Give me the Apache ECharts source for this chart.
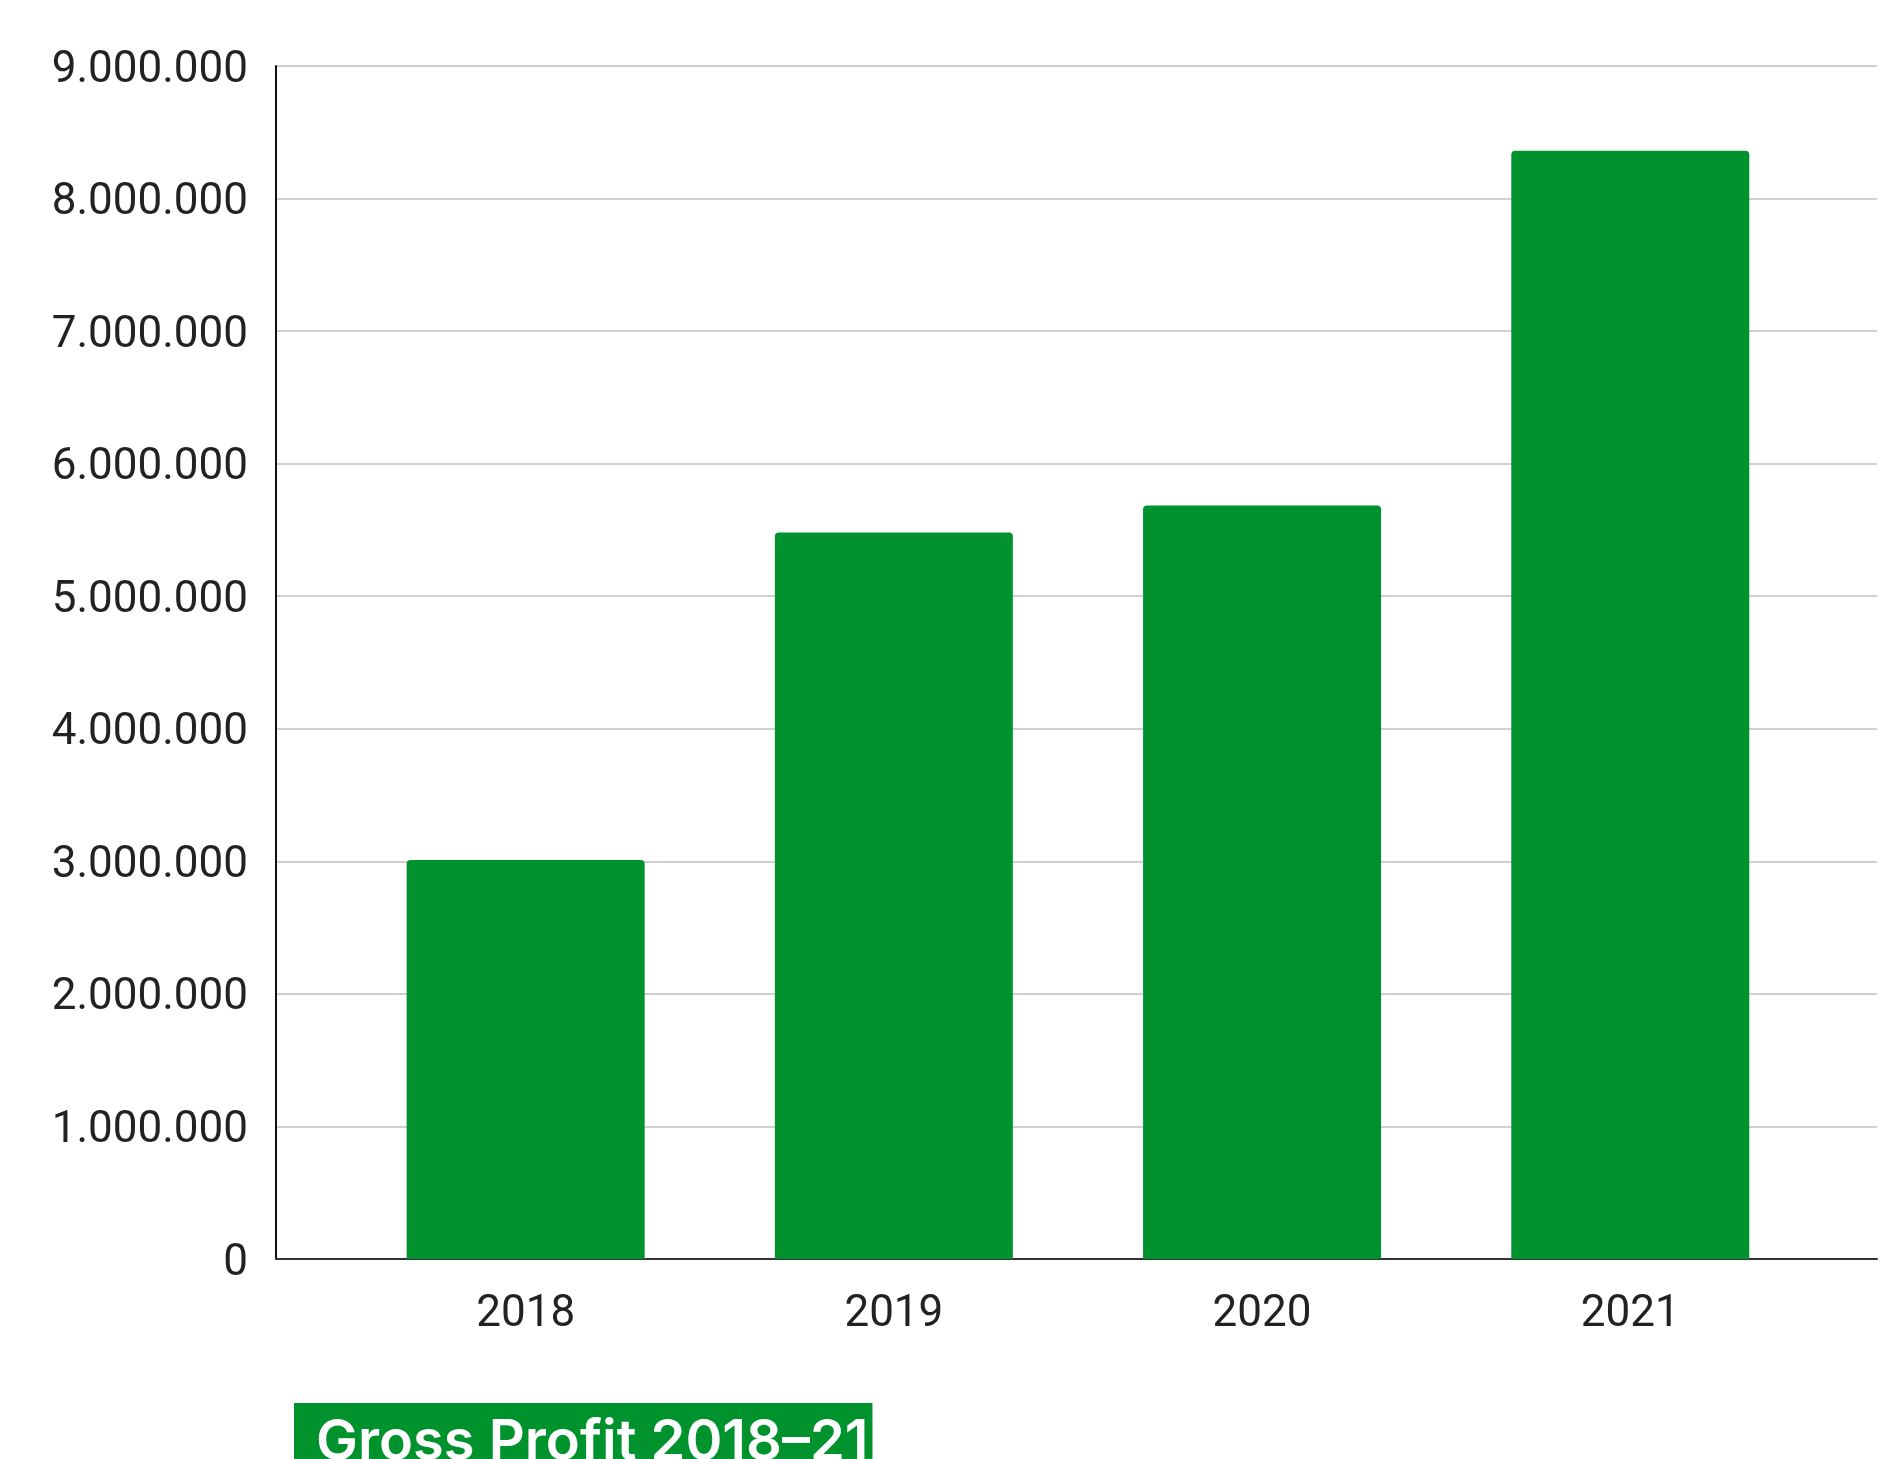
<!DOCTYPE html>
<html>
<head>
<meta charset="utf-8">
<title>Gross Profit 2018–21</title>
<script src="https://cdn.jsdelivr.net/npm/echarts@6/dist/echarts.min.js"></script>
<style>
  html, body { margin: 0; padding: 0; background: #ffffff; }
  #chart { width: 1885px; height: 1459px; }
</style>
</head>
<body>
<div id="chart"></div>
<script>
// Fiscal years and gross profit per year
const categories = ['2018', '2019', '2020', '2021'];
const grossProfit = [3010000, 5480000, 5685000, 8360000];
// Value axis range and step
const yMin = 0;
const yMax = 9000000;
const yStep = 1000000;
const titleText = 'Gross Profit 2018–21';

const GREEN = '#00922d';

// thousands separated by dots, e.g. 9.000.000
function dotThousands(v) {
  return String(Math.round(v)).replace(/\B(?=(\d{3})+(?!\d))/g, '.');
}

const chart = echarts.init(document.getElementById('chart'), null, { renderer: 'canvas' });

const option = {
  backgroundColor: '#ffffff',
  animation: false,
  title: {
    text: titleText,
    left: 294,
    top: 1403,
    backgroundColor: GREEN,
    padding: [12, 4, 20, 22],
    textStyle: {
      color: '#ffffff',
      fontFamily: 'Inter',
      fontWeight: 600,
      fontSize: 56
    }
  },
  grid: {
    left: 276,
    right: 8,
    top: 66,
    bottom: 200,
    containLabel: false
  },
  xAxis: {
    type: 'value',
    // the category slots sit inside a wider plot area
    min: -0.678,
    max: 3.67,
    axisLine: { show: true, onZero: false, lineStyle: { color: '#333333', width: 2 } },
    axisTick: { show: false },
    splitLine: { show: false },
    axisLabel: {
      customValues: categories.map((c, i) => i),
      formatter: v => categories[Math.round(v)] ?? '',
      color: '#222222',
      fontFamily: 'Roboto',
      fontSize: 44,
      margin: 34
    }
  },
  yAxis: {
    type: 'value',
    min: yMin,
    max: yMax,
    interval: yStep,
    axisLine: { show: true, onZero: false, lineStyle: { color: '#111111', width: 2 } },
    axisTick: { show: false },
    splitLine: { show: true, lineStyle: { color: '#d0d0d0', width: 2 } },
    axisLabel: {
      formatter: v => '{n|' + dotThousands(v) + '}',
      margin: 28,
      rich: {
        n: {
          color: '#222222',
          fontFamily: 'Roboto',
          fontSize: 44,
          padding: [9, 0, 0, 0]
        }
      }
    }
  },
  series: [{
    type: 'bar',
    data: grossProfit.map((v, i) => [i, v]),
    barWidth: 238,
    itemStyle: { color: GREEN, borderRadius: [4, 4, 0, 0] },
    z: 3
  }]
};

chart.setOption(option);
</script>
</body>
</html>
